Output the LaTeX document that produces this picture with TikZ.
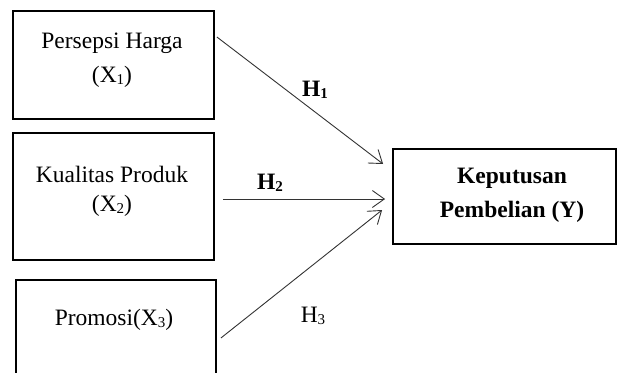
\documentclass[tikz,border=0pt]{standalone}
\usepackage{fontspec}
\setmainfont{Liberation Serif}
\usetikzlibrary{arrows.meta}
\newcommand{\sbs}[1]{\raisebox{-1.5pt}{\fontsize{15}{15}\selectfont #1}}
\begin{document}
\begin{tikzpicture}[x=1pt,y=-1pt,
  box/.style={draw=black,line width=1.8pt,rectangle,inner sep=0pt},
  txt/.style={inner sep=0pt,font=\fontsize{23.5}{25}\selectfont},
  btxt/.style={inner sep=0pt,font=\fontsize{23.5}{25}\selectfont\bfseries},
  conn/.style={draw=black!80,line width=0.9pt,-{Straight Barb[length=12pt,width=17pt,line width=0.9pt]}}]
\useasboundingbox (0,0) rectangle (617,372);
\clip (0,0) rectangle (617,372);
\node[box,minimum width=201pt,minimum height=108pt] (b1) at (113.5,65) {};
\node[box,minimum width=201pt,minimum height=127pt] (b2) at (113.5,196.5) {};
\node[box,minimum width=200pt,minimum height=120pt] (b3) at (116,340) {};
\node[box,minimum width=223pt,minimum height=95pt] (by) at (504.5,196.5) {};
\node[txt] (t1a) at (112,43) {Persepsi Harga};
\node[txt] (t1b) at (112,77) {(X\sbs{1})};
\node[txt] (t2a) at (112,174) {Kualitas Produk};
\node[txt] (t2b) at (112,206) {(X\sbs{2})};
\node[txt] (t3) at (114,320) {Promosi(X\sbs{3})};
\node[btxt] (tya) at (512,178) {Keputusan};
\node[btxt] (tyb) at (512,212) {Pembelian (Y)};
\node[btxt] (h1) at (315,90) {H\sbs{1}};
\node[btxt] (h2) at (270,183) {H\sbs{2}};
\node[txt] (h3) at (313,316) {H\sbs{3}};
\draw[conn] ([xshift=2pt,yshift=28pt]b1.east) -- ([xshift=-9pt,yshift=32.5pt]by.west);
\draw[conn] ([xshift=8pt,yshift=-2.5pt]b2.east) -- ([xshift=-7pt,yshift=-2.5pt]by.west);
\draw[conn] ([xshift=4pt,yshift=2pt]b3.east) -- ([xshift=-10pt,yshift=-13.5pt]by.west);
\end{tikzpicture}
\end{document}
